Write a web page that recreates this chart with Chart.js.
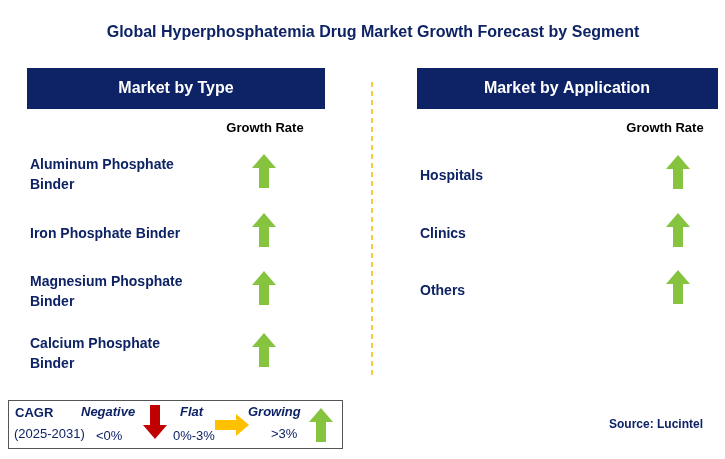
<!DOCTYPE html>
<html><head><meta charset="utf-8">
<script src="https://cdn.jsdelivr.net/npm/chart.js@4"></script>
<style>html,body{margin:0;padding:0;background:#fff}canvas{display:block}</style>
</head><body><canvas id="c" width="725" height="459"></canvas>
<script>
const title = "Global Hyperphosphatemia Drug Market Growth Forecast by Segment";
const typeCategories = [["Aluminum Phosphate","Binder"],["Iron Phosphate Binder"],["Magnesium Phosphate","Binder"],["Calcium Phosphate","Binder"]];
const typeTrend = ["up","up","up","up"];
const appCategories = ["Hospitals","Clinics","Others"];
const appTrend = ["up","up","up"];
const typeRowY = [175, 234, 292, 354];
const appRowY = [176, 234, 291];

function arrowCanvas(dir){
  const c=document.createElement('canvas');
  const W = dir==='right'?34:24, H = dir==='right'?22:34;
  c.width=W;c.height=H;const g=c.getContext('2d');
  g.fillStyle = dir==='up'?'#86c440':dir==='down'?'#c00000':'#ffc000';
  g.beginPath();
  if(dir==='up'){g.moveTo(12,0);g.lineTo(24,14);g.lineTo(17,14);g.lineTo(17,34);g.lineTo(7,34);g.lineTo(7,14);g.lineTo(0,14);}
  else if(dir==='down'){g.moveTo(12,34);g.lineTo(24,20);g.lineTo(17,20);g.lineTo(17,0);g.lineTo(7,0);g.lineTo(7,20);g.lineTo(0,20);}
  else {g.moveTo(34,11);g.lineTo(21,0);g.lineTo(21,6);g.lineTo(0,6);g.lineTo(0,16);g.lineTo(21,16);g.lineTo(21,22);}
  g.closePath();g.fill();return c;
}
const icons={up:arrowCanvas('up'),down:arrowCanvas('down'),right:arrowCanvas('right')};
const pts=[], styles=[];
typeTrend.forEach((t,i)=>{pts.push({x:264,y:typeRowY[i]-4});styles.push(icons[t]);});
appTrend.forEach((t,i)=>{pts.push({x:678,y:appRowY[i]-4});styles.push(icons[t]);});
pts.push({x:155,y:422});styles.push(icons.down);
pts.push({x:232,y:425});styles.push(icons.right);
pts.push({x:321,y:425});styles.push(icons.up);

const NAVY='#0e2365';
const F='Arial, "Liberation Sans"';
const deco={id:'deco',beforeDatasetsDraw(ch){
  const g=ch.ctx;g.save();
  g.textBaseline='middle';
  g.fillStyle=NAVY;g.font='bold 16px '+F;g.textAlign='center';
  g.fillText(title,373,33);
  g.fillRect(27,68,298,41);g.fillRect(417,68,301,41);
  g.fillStyle='#fff';
  g.fillText("Market by Type",176,89);g.fillText("Market by Application",567,89);
  g.fillStyle='#000';g.font='bold 13px '+F;
  g.fillText("Growth Rate",265,128);g.fillText("Growth Rate",665,128);
  g.strokeStyle='#f5b800';g.lineWidth=1.5;g.setLineDash([5,4]);
  g.beginPath();g.moveTo(372,82);g.lineTo(372,375);g.stroke();g.setLineDash([]);
  g.fillStyle=NAVY;g.font='bold 14px '+F;g.textAlign='left';
  typeCategories.forEach((lines,i)=>{
    const y0=typeRowY[i]-(lines.length-1)*10;
    lines.forEach((l,j)=>g.fillText(l,30,y0+j*20));
  });
  appCategories.forEach((l,i)=>g.fillText(l,420,appRowY[i]));
  g.font='bold 12px '+F;g.textAlign='right';
  g.fillText("Source: Lucintel",703,425);
  g.strokeStyle='#555';g.lineWidth=1;g.strokeRect(8.5,400.5,334,48);
  g.textAlign='left';g.font='bold 13px '+F;
  g.fillText("CAGR",15,413);
  g.font='13px '+F;g.fillText("(2025-2031)",14,434);
  g.font='italic bold 13px '+F;
  g.fillText("Negative",81,412);g.fillText("Flat",180,412);g.fillText("Growing",248,412);
  g.font='13px '+F;
  g.fillText("<0%",96,436);g.fillText("0%-3%",173,436);g.fillText(">3%",271,434);
  g.restore();
}};
new Chart(document.getElementById('c'),{
  type:'scatter',
  data:{datasets:[{data:pts,pointStyle:styles,pointRadius:12}]},
  options:{responsive:false,animation:false,events:[],
    layout:{padding:0,autoPadding:false},
    plugins:{legend:{display:false},tooltip:{enabled:false}},
    scales:{x:{type:'linear',min:0,max:725,display:false},
            y:{type:'linear',min:0,max:459,reverse:true,display:false}}},
  plugins:[deco]
});
</script></body></html>
